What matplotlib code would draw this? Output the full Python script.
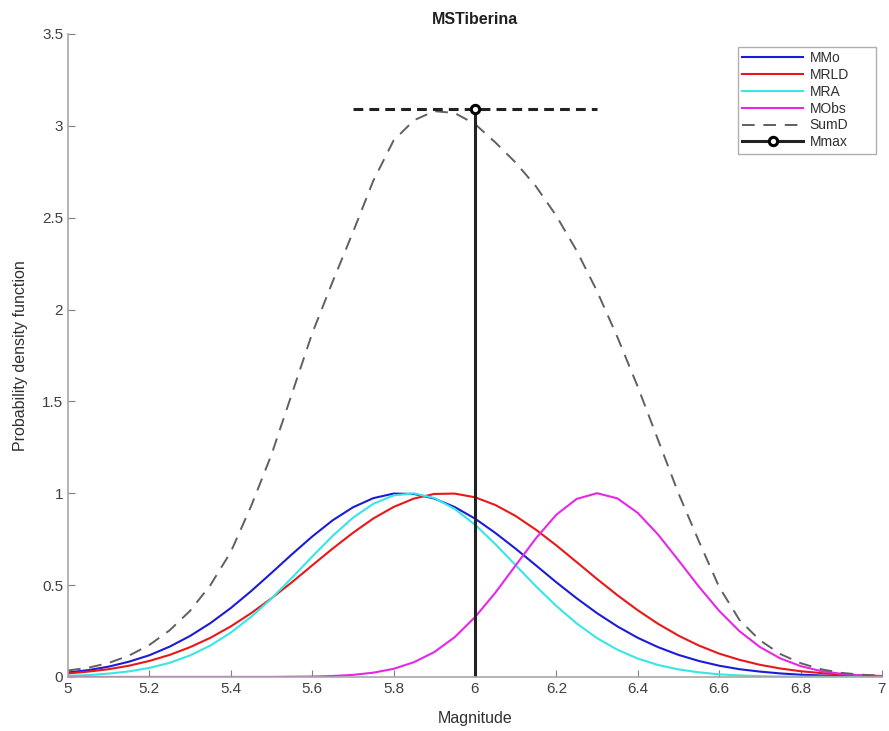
import matplotlib as mpl
mpl.use('Agg')

import matplotlib.pyplot as plt
import numpy as np
from matplotlib.ticker import FormatStrFormatter

# Magnitude grid and curve values
magnitude = [5.00, 5.05, 5.10, 5.15, 5.20, 5.25, 5.30, 5.35, 5.40, 5.45,
             5.50, 5.55, 5.60, 5.65, 5.70, 5.75, 5.80, 5.85, 5.90, 5.95,
             6.00, 6.05, 6.10, 6.15, 6.20, 6.25, 6.30, 6.35, 6.40, 6.45,
             6.50, 6.55, 6.60, 6.65, 6.70, 6.75, 6.80, 6.85, 6.90, 6.95,
             7.00]

MMo = [0.024, 0.037, 0.056, 0.083, 0.118, 0.165, 0.223, 0.293, 0.375, 0.467,
       0.566, 0.667, 0.764, 0.852, 0.923, 0.973, 0.998, 0.996, 0.971, 0.925,
       0.862, 0.784, 0.698, 0.607, 0.515, 0.428, 0.347, 0.275, 0.213, 0.162,
       0.120, 0.087, 0.061, 0.042, 0.029, 0.019, 0.012, 0.008, 0.005, 0.003,
       0.002]

MRLD = [0.019, 0.029, 0.042, 0.061, 0.087, 0.120, 0.162, 0.213, 0.275, 0.347,
        0.428, 0.515, 0.607, 0.698, 0.784, 0.862, 0.925, 0.971, 0.996, 0.998,
        0.978, 0.936, 0.876, 0.801, 0.716, 0.625, 0.533, 0.445, 0.363, 0.289,
        0.225, 0.171, 0.127, 0.093, 0.066, 0.046, 0.031, 0.021, 0.013, 0.008,
        0.005]

MRA = [0.006, 0.010, 0.018, 0.030, 0.049, 0.077, 0.117, 0.171, 0.241, 0.327,
       0.427, 0.539, 0.655, 0.767, 0.866, 0.942, 0.988, 0.999, 0.974, 0.915,
       0.829, 0.723, 0.608, 0.493, 0.386, 0.291, 0.211, 0.148, 0.100, 0.065,
       0.041, 0.025, 0.014, 0.008, 0.004, 0.002, 0.001, 0.001, 0.000, 0.000,
       0.000]

MObs = [0.000, 0.000, 0.000, 0.000, 0.000, 0.000, 0.000, 0.000, 0.000, 0.000,
        0.000, 0.001, 0.002, 0.005, 0.011, 0.023, 0.044, 0.080, 0.135, 0.216,
        0.325, 0.458, 0.607, 0.755, 0.883, 0.969, 1.000, 0.972, 0.893, 0.775,
        0.635, 0.492, 0.360, 0.249, 0.163, 0.101, 0.059, 0.032, 0.017, 0.008,
        0.004]

SumD = [0.035, 0.050, 0.076, 0.116, 0.174, 0.254, 0.360, 0.500, 0.680, 0.930,
        1.210, 1.540, 1.870, 2.150, 2.420, 2.700, 2.920, 3.030, 3.080, 3.070,
        3.010, 2.910, 2.800, 2.670, 2.510, 2.320, 2.100, 1.850, 1.580, 1.290,
        1.000, 0.740, 0.490, 0.310, 0.200, 0.125, 0.075, 0.042, 0.022, 0.012,
        0.006]

Mmax = 6.0
peak = 3.09
peak_span = [5.7, 6.3]

labels = ['MMo', 'MRLD', 'MRA', 'MObs', 'SumD', 'Mmax']

plt.rcParams['font.family'] = ['Liberation Sans', 'DejaVu Sans']

fig = plt.figure(figsize=(8.89, 7.31), dpi=100)
ax = fig.add_axes([0.0765, 0.074, 0.9155, 0.8795])

kw = dict(lw=1.5, solid_joinstyle='round')
ax.plot(magnitude, MMo, color='#1c1cd8', label=labels[0], **kw)
ax.plot(magnitude, MRLD, color='#e81818', label=labels[1], **kw)
ax.plot(magnitude, MRA, color='#38e6e6', label=labels[2], **kw)
ax.plot(magnitude, MObs, color='#e628e6', label=labels[3], **kw)
ax.plot(magnitude, SumD, color='#606060', lw=1.4, dashes=(6.5, 4.5),
        label=labels[4])
ax.plot(peak_span, [peak, peak], color='#222222', lw=2.2, dashes=(3.2, 2))
ax.plot([Mmax, Mmax], [0, peak], color='#222222', lw=2.2, marker='o',
        ms=6, mfc='white', mec='black', mew=2.2, markevery=[-1],
        label=labels[5])

ax.set_xlim(5, 7)
ax.set_ylim(0, 3.5)
ax.set_xticks(np.arange(5, 7.01, 0.2))
ax.set_yticks(np.arange(0, 3.51, 0.5))
ax.xaxis.set_major_formatter(FormatStrFormatter('%g'))
ax.yaxis.set_major_formatter(FormatStrFormatter('%g'))

for side in ['top', 'right']:
    ax.spines[side].set_visible(False)
for side in ['left', 'bottom']:
    ax.spines[side].set_color('#a8a8a8')
    ax.spines[side].set_linewidth(1.2)
ax.tick_params(direction='in', length=5, color='#808080',
               labelcolor='#404040', labelsize=11)

ax.set_title('MSTiberina', fontsize=11.5, fontweight='bold', color='#202020', pad=7)
ax.set_xlabel('Magnitude', fontsize=11.5, color='#303030', labelpad=11)
ax.set_ylabel('Probability density function', fontsize=11.5, color='#303030',
              labelpad=10)

leg = ax.legend(loc='upper left', bbox_to_anchor=(0.823, 0.5, 0.1695, 0.48),
                mode='expand', borderaxespad=0, fontsize=10,
                handlelength=4.4, handletextpad=0.45, labelspacing=0.2,
                borderpad=0.32, fancybox=False, framealpha=1)
leg.get_frame().set_edgecolor('#b0b0b0')
leg.get_frame().set_linewidth(1.0)
for t in leg.get_texts():
    t.set_color('#303030')

plt.savefig('out.png', dpi=100)
